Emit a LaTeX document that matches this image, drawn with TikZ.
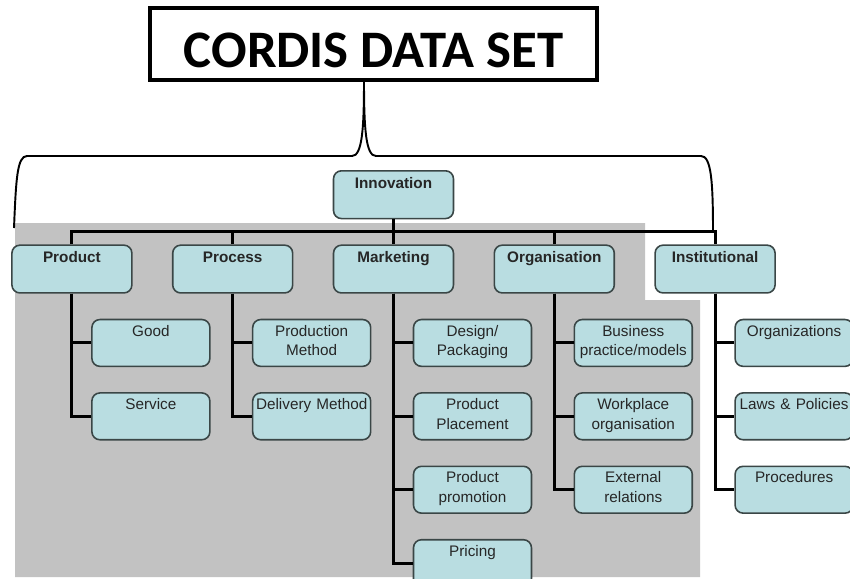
\documentclass[tikz,border=0pt]{standalone}
\usepackage{fontspec}
\setmainfont{Liberation Sans}
\newfontfamily\titlefont{Carlito}
\usepackage{tikz}
\usetikzlibrary{positioning}
\definecolor{cordisCyan}{HTML}{B9DDE1}
\definecolor{cordisEdge}{HTML}{3A4646}
\definecolor{cordisGrey}{HTML}{C2C2C2}

\begin{document}
\begin{tikzpicture}[
  x=0.02cm, y=-0.02cm,
  node distance=0.5cm and 0.785cm,
  headbox/.style={rectangle,draw=black,line width=2.2pt,fill=white,minimum width=8.94cm,inner sep=0pt,text height=34pt,text depth=6.8pt,font=\titlefont\bfseries\fontsize{30}{32}\selectfont},
  mainbox/.style={rectangle,rounded corners=0.16cm,draw=cordisEdge,line width=0.9pt,fill=cordisCyan,text=black!85,text width=2.4cm,align=center,inner sep=0pt,text height=9.9pt,text depth=17.3pt,font=\fontsize{8.7}{11.3}\selectfont\bfseries},
  subbox/.style={rectangle,rounded corners=0.16cm,draw=cordisEdge,line width=0.9pt,fill=cordisCyan,text=black!85,text width=2.36cm,align=center,inner sep=0pt,text height=9.4pt,text depth=17.25pt,font=\fontsize{8.7}{11.3}\selectfont},
  link/.style={line width=1.7pt,color=black},
  curlyline/.style={line width=1.1pt,color=black}
]
\useasboundingbox (0,0) rectangle (850,579);
\fill[cordisGrey] (15,223) -- (645,223) -- (645,300) -- (700,300) -- (700,577) -- (15,577) -- cycle;

\node[headbox] (cordis) at (373.5,44) {CORDIS DATA SET};
\draw[curlyline] (14,228) .. controls (16,180) and (17,156) .. (27,156) -- (352,156)
  .. controls (362,156) and (364,130) .. (364,81)
  .. controls (364,130) and (366,156) .. (376,156) -- (701,156)
  .. controls (711,156) and (713,180) .. (713,231);

\node[mainbox,anchor=north] (innovation) at (393.5,170) {Innovation};
\node[mainbox,below=of innovation] (marketing) {Marketing};
\node[mainbox,left=of marketing] (process) {Process};
\node[mainbox,left=of process] (product) {Product};
\node[mainbox,right=of marketing] (organisation) {Organisation};
\node[mainbox,right=of organisation] (institutional) {Institutional};

\node[subbox,anchor=north west] (good) at ([xshift=1.6cm,yshift=-0.5cm]product.south west) {Good};
\node[subbox,below=of good] (service) {Service};
\node[subbox,anchor=north west] (production) at ([xshift=1.6cm,yshift=-0.5cm]process.south west) {Production\\Method};
\node[subbox,below=of production] (delivery) {Delivery Method};
\node[subbox,anchor=north west] (design) at ([xshift=1.6cm,yshift=-0.5cm]marketing.south west) {Design/\\Packaging};
\node[subbox,below=of design] (placement) {Product\\Placement};
\node[subbox,below=of placement] (promotion) {Product\\promotion};
\node[subbox,below=of promotion] (pricing) {Pricing};
\node[subbox,anchor=north west] (business) at ([xshift=1.6cm,yshift=-0.5cm]organisation.south west) {Business\\practice/models};
\node[subbox,below=of business] (workplace) {Workplace\\organisation};
\node[subbox,below=of workplace] (external) {External\\relations};
\node[subbox,anchor=north west] (organizations) at ([xshift=1.6cm,yshift=-0.5cm]institutional.south west) {Organizations};
\node[subbox,below=of organizations] (laws) {Laws \& Policies};
\node[subbox,below=of laws] (procedures) {Procedures};

\coordinate (bus) at ([yshift=0.25cm]marketing.north);
\draw[link] (innovation) -- (marketing);
\draw[link] (product.north) |- (bus) -| (institutional.north);
\draw[link] (process.north) -- (process.north |- bus);
\draw[link] (organisation.north) -- (organisation.north |- bus);

\draw[link] (product.south) |- (good.west);
\draw[link] (product.south) |- (service.west);
\draw[link] (process.south) |- (production.west);
\draw[link] (process.south) |- (delivery.west);
\draw[link] (marketing.south) |- (design.west);
\draw[link] (marketing.south) |- (placement.west);
\draw[link] (marketing.south) |- (promotion.west);
\draw[link] (marketing.south) |- (pricing.west);
\draw[link] (organisation.south) |- (business.west);
\draw[link] (organisation.south) |- (workplace.west);
\draw[link] (organisation.south) |- (external.west);
\draw[link] (institutional.south) |- (organizations.west);
\draw[link] (institutional.south) |- (laws.west);
\draw[link] (institutional.south) |- (procedures.west);
\end{tikzpicture}
\end{document}
